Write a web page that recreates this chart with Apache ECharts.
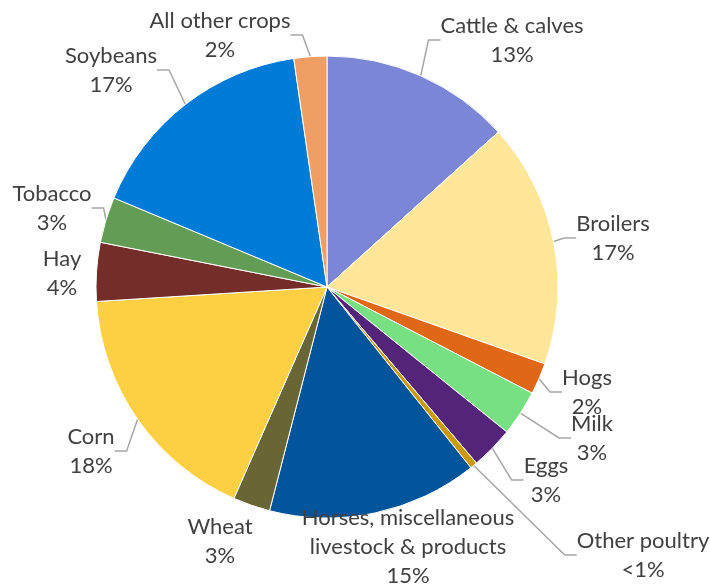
<!DOCTYPE html>
<html>
<head>
<meta charset="utf-8">
<style>
  html, body { margin: 0; padding: 0; background: #fff; }
  #main { width: 710px; height: 586px; }
</style>
<script src="https://cdn.jsdelivr.net/npm/echarts@6/dist/echarts.min.js"></script>
</head>
<body>
<div id="main"></div>
<script>
// slices clockwise from 12 o'clock
const categories = ['Cattle & calves', 'Broilers', 'Hogs', 'Milk', 'Eggs', 'Other poultry',
  'Horses, miscellaneous\nlivestock & products', 'Wheat', 'Corn', 'Hay', 'Tobacco', 'Soybeans', 'All other crops'];
const shares = [13.3, 17.1, 2.2, 3.2, 3.0, 0.5, 14.7, 2.6, 17.4, 4.1, 3.2, 16.4, 2.3];
const pctLabels = ['13%', '17%', '2%', '3%', '3%', '<1%', '15%', '3%', '18%', '4%', '3%', '17%', '2%'];
const colors = ['#7B86D6', '#FFE699', '#E06716', '#77E083', '#54237A', '#C99A06',
  '#02559A', '#686635', '#FDD043', '#742D29', '#629C55', '#007BD8', '#F09E64'];

// where each data label's centre sits (layout, like Excel's dragged labels)
const labelPos = [[512, 40], [613, 238], [587, 392], [592, 438], [546, 480], [643, 555],
  [408, 547], [220, 541], [91, 451], [62, 273], [52, 208], [111, 70], [220, 35]];
const noLeader = [6, 7, 9];

const myChart = echarts.init(document.getElementById('main'));

const option = {
  animation: false,
  series: [{
    type: 'pie',
    center: [327, 287],
    radius: 231,
    startAngle: 90,
    clockwise: true,
    avoidLabelOverlap: false,
    itemStyle: { borderColor: '#fff', borderWidth: 1 },
    label: {
      show: true,
      position: 'outside',
      fontFamily: 'Lato, "Open Sans", sans-serif',
      fontSize: 22,
      lineHeight: 29,
      color: '#404040',
      formatter: p => p.name + '\n' + pctLabels[p.dataIndex]
    },
    labelLine: {
      show: true,
      length: 10,
      length2: 12,
      lineStyle: { color: '#A6A6A6', width: 1.5 }
    },
    labelLayout: p => ({
      x: labelPos[p.dataIndex][0],
      y: labelPos[p.dataIndex][1],
      align: 'center',
      verticalAlign: 'middle'
    }),
    data: categories.map((c, i) => ({
      name: c,
      value: shares[i],
      itemStyle: { color: colors[i] },
      labelLine: { show: noLeader.indexOf(i) < 0 }
    }))
  }]
};

myChart.setOption(option);
</script>
</body>
</html>
